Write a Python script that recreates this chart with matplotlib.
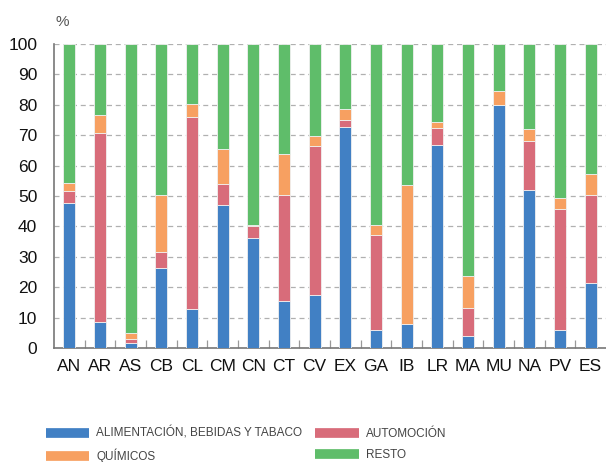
import matplotlib
matplotlib.use("Agg")
import matplotlib.pyplot as plt
from matplotlib.lines import Line2D
import numpy as np

categories = ["AN", "AR", "AS", "CB", "CL", "CM", "CN", "CT", "CV", "EX",
              "GA", "IB", "LR", "MA", "MU", "NA", "PV", "ES"]
alimentacion = [47.7, 8.6, 1.6, 26.2, 12.7, 46.9, 36.1, 15.5, 17.4, 72.6,
                5.8, 7.8, 66.8, 3.8, 79.8, 51.9, 5.8, 21.4]
automocion = [3.8, 62.2, 1.3, 5.3, 63.2, 7.0, 3.9, 34.7, 49.2, 2.3,
              31.4, 0.0, 5.5, 9.5, 0.0, 16.1, 39.9, 29.0]
quimicos = [2.9, 5.8, 2.1, 18.8, 4.3, 11.6, 0.6, 13.5, 3.0, 3.8,
            3.4, 45.9, 2.0, 10.5, 4.8, 4.1, 3.6, 6.9]
resto = [45.6, 23.4, 95.0, 49.7, 19.8, 34.5, 59.4, 36.3, 30.4, 21.3,
         59.4, 46.3, 25.7, 76.2, 15.4, 27.9, 50.7, 42.7]
series_names = ["ALIMENTACIÓN, BEBIDAS Y TABACO", "AUTOMOCIÓN", "QUÍMICOS", "RESTO"]
colors = ["#4180C4", "#D86C7A", "#F7A061", "#5FBD6A"]
yticks = list(range(0, 101, 10))

plt.rcParams['font.family'] = ['Liberation Sans', 'DejaVu Sans']

fig = plt.figure(figsize=(6.06, 4.62), dpi=100)
ax = fig.add_axes([54/606, 1 - 348/462, (606-54)/606, (348-44)/462])

x = np.arange(len(categories))
bottom = np.zeros(len(categories))
for vals, c in zip([alimentacion, automocion, quimicos, resto], colors):
    ax.bar(x, vals, width=0.39, bottom=bottom, color=c, edgecolor="#f0f0f0",
           linewidth=0.6, zorder=3)
    bottom += np.array(vals)

ax.set_xlim(-0.5, len(categories) - 0.5)
ax.set_ylim(0, 100)
ax.set_yticks(yticks)
ax.set_yticklabels([str(t) for t in yticks])
ax.set_xticks(x)
ax.set_xticklabels(categories)
ax.set_xticks(x[:-1] + 0.5, minor=True)
ax.tick_params(axis="x", which="major", length=0, labelsize=12.5, pad=8, colors="#111111")
ax.tick_params(axis="x", which="minor", length=6, direction="in", color="#999999", width=0.9)
ax.tick_params(axis="y", length=0, labelsize=12.5, pad=12, colors="#111111")

ax.grid(axis="y", linestyle=(0, (4, 3)), color="#b0b0b0", linewidth=0.9, zorder=0)
for s in ["top", "right"]:
    ax.spines[s].set_visible(False)
for s in ["left", "bottom"]:
    ax.spines[s].set_color("#777777")
    ax.spines[s].set_linewidth(1.2)

fig.text(55/606, 1 - 22/462, "%", fontsize=11, color="#555555", va="center", ha="left")

handles = [Line2D([0], [0], color=c, linewidth=7, solid_capstyle="butt") for c in colors]
order = [0, 2, 1, 3]
leg = fig.legend([handles[i] for i in order], [series_names[i] for i in order],
                 ncol=2, loc="upper left", bbox_to_anchor=(41/606, 1 - 422/462),
                 frameon=False, handlelength=3.7, handletextpad=0.6,
                 columnspacing=1.07, labelspacing=0.78, borderaxespad=0,
                 prop={"family": ["Liberation Sans"], "size": 8.5})
for t in leg.get_texts():
    t.set_color("#444444")

fig.savefig("out.png", dpi=100)
